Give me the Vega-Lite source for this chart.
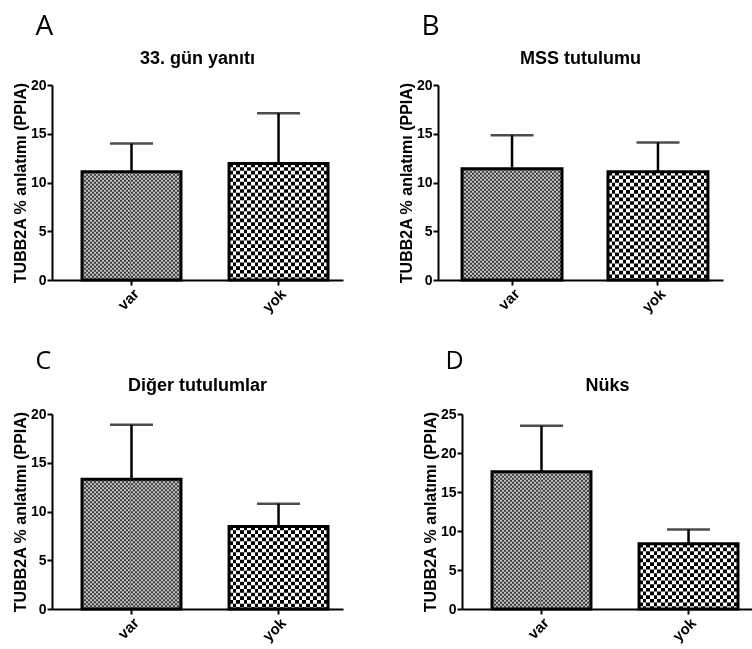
{
  "$schema": "https://vega.github.io/schema/vega-lite/v6.json",
  "padding": {"left": 12, "top": 13, "right": 0, "bottom": 0},
  "background": "white",
  "datasets": {
    "d": [
      {"panel": "A", "group": "var", "mean": 11.1, "upper": 14.0},
      {"panel": "A", "group": "yok", "mean": 11.95, "upper": 17.1},
      {"panel": "B", "group": "var", "mean": 11.4, "upper": 14.85},
      {"panel": "B", "group": "yok", "mean": 11.1, "upper": 14.1},
      {"panel": "C", "group": "var", "mean": 13.3, "upper": 18.9},
      {"panel": "C", "group": "yok", "mean": 8.45, "upper": 10.8},
      {"panel": "D", "group": "var", "mean": 17.6, "upper": 23.5},
      {"panel": "D", "group": "yok", "mean": 8.35, "upper": 10.2}
    ]
  },
  "config": {
    "font": "Liberation Sans",
    "view": {"stroke": null},
    "axis": {
      "grid": false,
      "domainColor": "#000", "domainWidth": 2,
      "tickColor": "#000", "tickWidth": 2, "tickSize": 5,
      "labelColor": "#000", "labelFont": "Liberation Sans", "labelFontSize": 14, "labelFontWeight": "bold", "labelPadding": 1,
      "titleColor": "#000", "titleFont": "Liberation Sans", "titleFontSize": 16, "titleFontWeight": "bold"
    },
    "axisX": {"labelFontSize": 15},
    "axisY": {"titlePadding": 2},
    "title": {"font": "Liberation Sans", "fontSize": 18, "fontWeight": "bold", "color": "#000"}
  },
  "spacing": 19,
  "vconcat": [
    {
      "spacing": 55,
      "hconcat": [
        {
          "title": {"text": "A", "anchor": "start", "font": "Open Sans", "fontSize": 28, "fontWeight": "normal", "dx": 23, "offset": 9},
          "vconcat": [{
            "width": 291, "height": 195,
            "title": {"text": "33. gün yanıtı", "offset": 10},
            "data": {"name": "d"},
            "transform": [{"filter": "datum.panel === 'A'"}],
            "encoding": {
              "x": {"field": "group", "type": "nominal", "scale": {"domain": ["var", "yok"], "paddingInner": 0.327, "paddingOuter": 0.153, "align": 0.667}, "axis": {"title": null, "labelAngle": -45}},
              "y": {"field": "mean", "type": "quantitative", "scale": {"domain": [0, 20], "nice": false}, "axis": {"values": [0, 5, 10, 15, 20], "title": "TUBB2A % anlatımı (PPIA)"}}
            },
            "layer": [
              {"transform": [{"filter": "datum.group === 'var'"}], "mark": {"type": "bar", "color": {"gradient": "linear", "x1": 0, "y1": 0, "x2": 1, "y2": 0, "stops": [
        {"offset":0,"color":"#3a3a3a"},{"offset":0.02,"color":"#3a3a3a"},{"offset":0.02,"color":"#c5c5c5"},{"offset":0.04,"color":"#c5c5c5"},{"offset":0.04,"color":"#3a3a3a"},{"offset":0.06,"color":"#3a3a3a"},{"offset":0.06,"color":"#c5c5c5"},{"offset":0.08,"color":"#c5c5c5"},{"offset":0.08,"color":"#3a3a3a"},{"offset":0.1,"color":"#3a3a3a"},{"offset":0.1,"color":"#c5c5c5"},{"offset":0.12,"color":"#c5c5c5"},{"offset":0.12,"color":"#3a3a3a"},{"offset":0.14,"color":"#3a3a3a"},{"offset":0.14,"color":"#c5c5c5"},{"offset":0.16,"color":"#c5c5c5"},{"offset":0.16,"color":"#3a3a3a"},{"offset":0.18,"color":"#3a3a3a"},{"offset":0.18,"color":"#c5c5c5"},{"offset":0.2,"color":"#c5c5c5"},{"offset":0.2,"color":"#3a3a3a"},{"offset":0.22,"color":"#3a3a3a"},{"offset":0.22,"color":"#c5c5c5"},{"offset":0.24,"color":"#c5c5c5"},{"offset":0.24,"color":"#3a3a3a"},{"offset":0.26,"color":"#3a3a3a"},{"offset":0.26,"color":"#c5c5c5"},{"offset":0.28,"color":"#c5c5c5"},{"offset":0.28,"color":"#3a3a3a"},{"offset":0.3,"color":"#3a3a3a"},{"offset":0.3,"color":"#c5c5c5"},{"offset":0.32,"color":"#c5c5c5"},{"offset":0.32,"color":"#3a3a3a"},{"offset":0.34,"color":"#3a3a3a"},{"offset":0.34,"color":"#c5c5c5"},{"offset":0.36,"color":"#c5c5c5"},{"offset":0.36,"color":"#3a3a3a"},{"offset":0.38,"color":"#3a3a3a"},{"offset":0.38,"color":"#c5c5c5"},{"offset":0.4,"color":"#c5c5c5"},{"offset":0.4,"color":"#3a3a3a"},{"offset":0.42,"color":"#3a3a3a"},{"offset":0.42,"color":"#c5c5c5"},{"offset":0.44,"color":"#c5c5c5"},{"offset":0.44,"color":"#3a3a3a"},{"offset":0.46,"color":"#3a3a3a"},{"offset":0.46,"color":"#c5c5c5"},{"offset":0.48,"color":"#c5c5c5"},{"offset":0.48,"color":"#3a3a3a"},{"offset":0.5,"color":"#3a3a3a"},{"offset":0.5,"color":"#c5c5c5"},{"offset":0.52,"color":"#c5c5c5"},{"offset":0.52,"color":"#3a3a3a"},{"offset":0.54,"color":"#3a3a3a"},{"offset":0.54,"color":"#c5c5c5"},{"offset":0.56,"color":"#c5c5c5"},{"offset":0.56,"color":"#3a3a3a"},{"offset":0.58,"color":"#3a3a3a"},{"offset":0.58,"color":"#c5c5c5"},{"offset":0.6,"color":"#c5c5c5"},{"offset":0.6,"color":"#3a3a3a"},{"offset":0.62,"color":"#3a3a3a"},{"offset":0.62,"color":"#c5c5c5"},{"offset":0.64,"color":"#c5c5c5"},{"offset":0.64,"color":"#3a3a3a"},{"offset":0.66,"color":"#3a3a3a"},{"offset":0.66,"color":"#c5c5c5"},{"offset":0.68,"color":"#c5c5c5"},{"offset":0.68,"color":"#3a3a3a"},{"offset":0.7,"color":"#3a3a3a"},{"offset":0.7,"color":"#c5c5c5"},{"offset":0.72,"color":"#c5c5c5"},{"offset":0.72,"color":"#3a3a3a"},{"offset":0.74,"color":"#3a3a3a"},{"offset":0.74,"color":"#c5c5c5"},{"offset":0.76,"color":"#c5c5c5"},{"offset":0.76,"color":"#3a3a3a"},{"offset":0.78,"color":"#3a3a3a"},{"offset":0.78,"color":"#c5c5c5"},{"offset":0.8,"color":"#c5c5c5"},{"offset":0.8,"color":"#3a3a3a"},{"offset":0.82,"color":"#3a3a3a"},{"offset":0.82,"color":"#c5c5c5"},{"offset":0.84,"color":"#c5c5c5"},{"offset":0.84,"color":"#3a3a3a"},{"offset":0.86,"color":"#3a3a3a"},{"offset":0.86,"color":"#c5c5c5"},{"offset":0.88,"color":"#c5c5c5"},{"offset":0.88,"color":"#3a3a3a"},{"offset":0.9,"color":"#3a3a3a"},{"offset":0.9,"color":"#c5c5c5"},{"offset":0.92,"color":"#c5c5c5"},{"offset":0.92,"color":"#3a3a3a"},{"offset":0.94,"color":"#3a3a3a"},{"offset":0.94,"color":"#c5c5c5"},{"offset":0.96,"color":"#c5c5c5"},{"offset":0.96,"color":"#3a3a3a"},{"offset":0.98,"color":"#3a3a3a"},{"offset":0.98,"color":"#c5c5c5"},{"offset":1,"color":"#c5c5c5"}
      ]}}},
              {"transform": [{"filter": "datum.group === 'yok'"}], "mark": {"type": "bar", "color": {"gradient": "linear", "x1": 0, "y1": 0, "x2": 1, "y2": 0, "stops": [
        {"offset":0,"color":"#fff"},{"offset":0.037,"color":"#fff"},{"offset":0.037,"color":"#000"},{"offset":0.0741,"color":"#000"},{"offset":0.0741,"color":"#fff"},{"offset":0.1111,"color":"#fff"},{"offset":0.1111,"color":"#000"},{"offset":0.1481,"color":"#000"},{"offset":0.1481,"color":"#fff"},{"offset":0.1852,"color":"#fff"},{"offset":0.1852,"color":"#000"},{"offset":0.2222,"color":"#000"},{"offset":0.2222,"color":"#fff"},{"offset":0.2593,"color":"#fff"},{"offset":0.2593,"color":"#000"},{"offset":0.2963,"color":"#000"},{"offset":0.2963,"color":"#fff"},{"offset":0.3333,"color":"#fff"},{"offset":0.3333,"color":"#000"},{"offset":0.3704,"color":"#000"},{"offset":0.3704,"color":"#fff"},{"offset":0.4074,"color":"#fff"},{"offset":0.4074,"color":"#000"},{"offset":0.4444,"color":"#000"},{"offset":0.4444,"color":"#fff"},{"offset":0.4815,"color":"#fff"},{"offset":0.4815,"color":"#000"},{"offset":0.5185,"color":"#000"},{"offset":0.5185,"color":"#fff"},{"offset":0.5556,"color":"#fff"},{"offset":0.5556,"color":"#000"},{"offset":0.5926,"color":"#000"},{"offset":0.5926,"color":"#fff"},{"offset":0.6296,"color":"#fff"},{"offset":0.6296,"color":"#000"},{"offset":0.6667,"color":"#000"},{"offset":0.6667,"color":"#fff"},{"offset":0.7037,"color":"#fff"},{"offset":0.7037,"color":"#000"},{"offset":0.7407,"color":"#000"},{"offset":0.7407,"color":"#fff"},{"offset":0.7778,"color":"#fff"},{"offset":0.7778,"color":"#000"},{"offset":0.8148,"color":"#000"},{"offset":0.8148,"color":"#fff"},{"offset":0.8519,"color":"#fff"},{"offset":0.8519,"color":"#000"},{"offset":0.8889,"color":"#000"},{"offset":0.8889,"color":"#fff"},{"offset":0.9259,"color":"#fff"},{"offset":0.9259,"color":"#000"},{"offset":0.963,"color":"#000"},{"offset":0.963,"color":"#fff"},{"offset":1,"color":"#fff"}
      ]}}},
              {"transform": [{"filter": "datum.group === 'var'"}], "mark": {"type": "rule", "stroke": "#fff", "strokeWidth": 99, "strokeDash": [2, 2], "blend": "difference"}, "encoding": {"y2": {"datum": 0}}},
              {"transform": [{"filter": "datum.group === 'yok'"}], "mark": {"type": "rule", "stroke": "#fff", "strokeWidth": 99, "strokeDash": [3.67, 3.67], "blend": "difference"}, "encoding": {"y2": {"datum": 0}}},
              {"mark": {"type": "bar", "fill": "transparent", "stroke": "#000", "strokeWidth": 3}},
              {"mark": {"type": "rule", "stroke": "#000", "strokeWidth": 2.5}, "encoding": {"y2": {"field": "upper"}}},
              {"mark": {"type": "tick", "color": "#000", "size": 43, "thickness": 2.5}, "encoding": {"y": {"field": "upper", "type": "quantitative"}}}
            ]
          }]
        },
        {
          "title": {"text": "B", "anchor": "start", "font": "Open Sans", "fontSize": 28, "fontWeight": "normal", "dx": 23, "offset": 9},
          "vconcat": [{
            "width": 285, "height": 195,
            "title": {"text": "MSS tutulumu", "offset": 10},
            "data": {"name": "d"},
            "transform": [{"filter": "datum.panel === 'B'"}],
            "encoding": {
              "x": {"field": "group", "type": "nominal", "scale": {"domain": ["var", "yok"], "paddingInner": 0.315, "paddingOuter": 0.134, "align": 0.615}, "axis": {"title": null, "labelAngle": -45}},
              "y": {"field": "mean", "type": "quantitative", "scale": {"domain": [0, 20], "nice": false}, "axis": {"values": [0, 5, 10, 15, 20], "title": "TUBB2A % anlatımı (PPIA)"}}
            },
            "layer": [
              {"transform": [{"filter": "datum.group === 'var'"}], "mark": {"type": "bar", "color": {"gradient": "linear", "x1": 0, "y1": 0, "x2": 1, "y2": 0, "stops": [
        {"offset":0,"color":"#3a3a3a"},{"offset":0.02,"color":"#3a3a3a"},{"offset":0.02,"color":"#c5c5c5"},{"offset":0.04,"color":"#c5c5c5"},{"offset":0.04,"color":"#3a3a3a"},{"offset":0.06,"color":"#3a3a3a"},{"offset":0.06,"color":"#c5c5c5"},{"offset":0.08,"color":"#c5c5c5"},{"offset":0.08,"color":"#3a3a3a"},{"offset":0.1,"color":"#3a3a3a"},{"offset":0.1,"color":"#c5c5c5"},{"offset":0.12,"color":"#c5c5c5"},{"offset":0.12,"color":"#3a3a3a"},{"offset":0.14,"color":"#3a3a3a"},{"offset":0.14,"color":"#c5c5c5"},{"offset":0.16,"color":"#c5c5c5"},{"offset":0.16,"color":"#3a3a3a"},{"offset":0.18,"color":"#3a3a3a"},{"offset":0.18,"color":"#c5c5c5"},{"offset":0.2,"color":"#c5c5c5"},{"offset":0.2,"color":"#3a3a3a"},{"offset":0.22,"color":"#3a3a3a"},{"offset":0.22,"color":"#c5c5c5"},{"offset":0.24,"color":"#c5c5c5"},{"offset":0.24,"color":"#3a3a3a"},{"offset":0.26,"color":"#3a3a3a"},{"offset":0.26,"color":"#c5c5c5"},{"offset":0.28,"color":"#c5c5c5"},{"offset":0.28,"color":"#3a3a3a"},{"offset":0.3,"color":"#3a3a3a"},{"offset":0.3,"color":"#c5c5c5"},{"offset":0.32,"color":"#c5c5c5"},{"offset":0.32,"color":"#3a3a3a"},{"offset":0.34,"color":"#3a3a3a"},{"offset":0.34,"color":"#c5c5c5"},{"offset":0.36,"color":"#c5c5c5"},{"offset":0.36,"color":"#3a3a3a"},{"offset":0.38,"color":"#3a3a3a"},{"offset":0.38,"color":"#c5c5c5"},{"offset":0.4,"color":"#c5c5c5"},{"offset":0.4,"color":"#3a3a3a"},{"offset":0.42,"color":"#3a3a3a"},{"offset":0.42,"color":"#c5c5c5"},{"offset":0.44,"color":"#c5c5c5"},{"offset":0.44,"color":"#3a3a3a"},{"offset":0.46,"color":"#3a3a3a"},{"offset":0.46,"color":"#c5c5c5"},{"offset":0.48,"color":"#c5c5c5"},{"offset":0.48,"color":"#3a3a3a"},{"offset":0.5,"color":"#3a3a3a"},{"offset":0.5,"color":"#c5c5c5"},{"offset":0.52,"color":"#c5c5c5"},{"offset":0.52,"color":"#3a3a3a"},{"offset":0.54,"color":"#3a3a3a"},{"offset":0.54,"color":"#c5c5c5"},{"offset":0.56,"color":"#c5c5c5"},{"offset":0.56,"color":"#3a3a3a"},{"offset":0.58,"color":"#3a3a3a"},{"offset":0.58,"color":"#c5c5c5"},{"offset":0.6,"color":"#c5c5c5"},{"offset":0.6,"color":"#3a3a3a"},{"offset":0.62,"color":"#3a3a3a"},{"offset":0.62,"color":"#c5c5c5"},{"offset":0.64,"color":"#c5c5c5"},{"offset":0.64,"color":"#3a3a3a"},{"offset":0.66,"color":"#3a3a3a"},{"offset":0.66,"color":"#c5c5c5"},{"offset":0.68,"color":"#c5c5c5"},{"offset":0.68,"color":"#3a3a3a"},{"offset":0.7,"color":"#3a3a3a"},{"offset":0.7,"color":"#c5c5c5"},{"offset":0.72,"color":"#c5c5c5"},{"offset":0.72,"color":"#3a3a3a"},{"offset":0.74,"color":"#3a3a3a"},{"offset":0.74,"color":"#c5c5c5"},{"offset":0.76,"color":"#c5c5c5"},{"offset":0.76,"color":"#3a3a3a"},{"offset":0.78,"color":"#3a3a3a"},{"offset":0.78,"color":"#c5c5c5"},{"offset":0.8,"color":"#c5c5c5"},{"offset":0.8,"color":"#3a3a3a"},{"offset":0.82,"color":"#3a3a3a"},{"offset":0.82,"color":"#c5c5c5"},{"offset":0.84,"color":"#c5c5c5"},{"offset":0.84,"color":"#3a3a3a"},{"offset":0.86,"color":"#3a3a3a"},{"offset":0.86,"color":"#c5c5c5"},{"offset":0.88,"color":"#c5c5c5"},{"offset":0.88,"color":"#3a3a3a"},{"offset":0.9,"color":"#3a3a3a"},{"offset":0.9,"color":"#c5c5c5"},{"offset":0.92,"color":"#c5c5c5"},{"offset":0.92,"color":"#3a3a3a"},{"offset":0.94,"color":"#3a3a3a"},{"offset":0.94,"color":"#c5c5c5"},{"offset":0.96,"color":"#c5c5c5"},{"offset":0.96,"color":"#3a3a3a"},{"offset":0.98,"color":"#3a3a3a"},{"offset":0.98,"color":"#c5c5c5"},{"offset":1,"color":"#c5c5c5"}
      ]}}},
              {"transform": [{"filter": "datum.group === 'yok'"}], "mark": {"type": "bar", "color": {"gradient": "linear", "x1": 0, "y1": 0, "x2": 1, "y2": 0, "stops": [
        {"offset":0,"color":"#fff"},{"offset":0.037,"color":"#fff"},{"offset":0.037,"color":"#000"},{"offset":0.0741,"color":"#000"},{"offset":0.0741,"color":"#fff"},{"offset":0.1111,"color":"#fff"},{"offset":0.1111,"color":"#000"},{"offset":0.1481,"color":"#000"},{"offset":0.1481,"color":"#fff"},{"offset":0.1852,"color":"#fff"},{"offset":0.1852,"color":"#000"},{"offset":0.2222,"color":"#000"},{"offset":0.2222,"color":"#fff"},{"offset":0.2593,"color":"#fff"},{"offset":0.2593,"color":"#000"},{"offset":0.2963,"color":"#000"},{"offset":0.2963,"color":"#fff"},{"offset":0.3333,"color":"#fff"},{"offset":0.3333,"color":"#000"},{"offset":0.3704,"color":"#000"},{"offset":0.3704,"color":"#fff"},{"offset":0.4074,"color":"#fff"},{"offset":0.4074,"color":"#000"},{"offset":0.4444,"color":"#000"},{"offset":0.4444,"color":"#fff"},{"offset":0.4815,"color":"#fff"},{"offset":0.4815,"color":"#000"},{"offset":0.5185,"color":"#000"},{"offset":0.5185,"color":"#fff"},{"offset":0.5556,"color":"#fff"},{"offset":0.5556,"color":"#000"},{"offset":0.5926,"color":"#000"},{"offset":0.5926,"color":"#fff"},{"offset":0.6296,"color":"#fff"},{"offset":0.6296,"color":"#000"},{"offset":0.6667,"color":"#000"},{"offset":0.6667,"color":"#fff"},{"offset":0.7037,"color":"#fff"},{"offset":0.7037,"color":"#000"},{"offset":0.7407,"color":"#000"},{"offset":0.7407,"color":"#fff"},{"offset":0.7778,"color":"#fff"},{"offset":0.7778,"color":"#000"},{"offset":0.8148,"color":"#000"},{"offset":0.8148,"color":"#fff"},{"offset":0.8519,"color":"#fff"},{"offset":0.8519,"color":"#000"},{"offset":0.8889,"color":"#000"},{"offset":0.8889,"color":"#fff"},{"offset":0.9259,"color":"#fff"},{"offset":0.9259,"color":"#000"},{"offset":0.963,"color":"#000"},{"offset":0.963,"color":"#fff"},{"offset":1,"color":"#fff"}
      ]}}},
              {"transform": [{"filter": "datum.group === 'var'"}], "mark": {"type": "rule", "stroke": "#fff", "strokeWidth": 100, "strokeDash": [2, 2], "blend": "difference"}, "encoding": {"y2": {"datum": 0}}},
              {"transform": [{"filter": "datum.group === 'yok'"}], "mark": {"type": "rule", "stroke": "#fff", "strokeWidth": 100, "strokeDash": [3.67, 3.67], "blend": "difference"}, "encoding": {"y2": {"datum": 0}}},
              {"mark": {"type": "bar", "fill": "transparent", "stroke": "#000", "strokeWidth": 3}},
              {"mark": {"type": "rule", "stroke": "#000", "strokeWidth": 2.5}, "encoding": {"y2": {"field": "upper"}}},
              {"mark": {"type": "tick", "color": "#000", "size": 43, "thickness": 2.5}, "encoding": {"y": {"field": "upper", "type": "quantitative"}}}
            ]
          }]
        }
      ]
    },
    {
      "spacing": 79,
      "hconcat": [
        {
          "title": {"text": "C", "anchor": "start", "font": "Open Sans", "fontSize": 25, "fontWeight": "normal", "dx": 23, "offset": 3},
          "vconcat": [{
            "width": 291, "height": 195,
            "title": {"text": "Diğer tutulumlar", "offset": 12},
            "data": {"name": "d"},
            "transform": [{"filter": "datum.panel === 'C'"}],
            "encoding": {
              "x": {"field": "group", "type": "nominal", "scale": {"domain": ["var", "yok"], "paddingInner": 0.327, "paddingOuter": 0.153, "align": 0.667}, "axis": {"title": null, "labelAngle": -45}},
              "y": {"field": "mean", "type": "quantitative", "scale": {"domain": [0, 20], "nice": false}, "axis": {"values": [0, 5, 10, 15, 20], "title": "TUBB2A % anlatımı (PPIA)"}}
            },
            "layer": [
              {"transform": [{"filter": "datum.group === 'var'"}], "mark": {"type": "bar", "color": {"gradient": "linear", "x1": 0, "y1": 0, "x2": 1, "y2": 0, "stops": [
        {"offset":0,"color":"#3a3a3a"},{"offset":0.02,"color":"#3a3a3a"},{"offset":0.02,"color":"#c5c5c5"},{"offset":0.04,"color":"#c5c5c5"},{"offset":0.04,"color":"#3a3a3a"},{"offset":0.06,"color":"#3a3a3a"},{"offset":0.06,"color":"#c5c5c5"},{"offset":0.08,"color":"#c5c5c5"},{"offset":0.08,"color":"#3a3a3a"},{"offset":0.1,"color":"#3a3a3a"},{"offset":0.1,"color":"#c5c5c5"},{"offset":0.12,"color":"#c5c5c5"},{"offset":0.12,"color":"#3a3a3a"},{"offset":0.14,"color":"#3a3a3a"},{"offset":0.14,"color":"#c5c5c5"},{"offset":0.16,"color":"#c5c5c5"},{"offset":0.16,"color":"#3a3a3a"},{"offset":0.18,"color":"#3a3a3a"},{"offset":0.18,"color":"#c5c5c5"},{"offset":0.2,"color":"#c5c5c5"},{"offset":0.2,"color":"#3a3a3a"},{"offset":0.22,"color":"#3a3a3a"},{"offset":0.22,"color":"#c5c5c5"},{"offset":0.24,"color":"#c5c5c5"},{"offset":0.24,"color":"#3a3a3a"},{"offset":0.26,"color":"#3a3a3a"},{"offset":0.26,"color":"#c5c5c5"},{"offset":0.28,"color":"#c5c5c5"},{"offset":0.28,"color":"#3a3a3a"},{"offset":0.3,"color":"#3a3a3a"},{"offset":0.3,"color":"#c5c5c5"},{"offset":0.32,"color":"#c5c5c5"},{"offset":0.32,"color":"#3a3a3a"},{"offset":0.34,"color":"#3a3a3a"},{"offset":0.34,"color":"#c5c5c5"},{"offset":0.36,"color":"#c5c5c5"},{"offset":0.36,"color":"#3a3a3a"},{"offset":0.38,"color":"#3a3a3a"},{"offset":0.38,"color":"#c5c5c5"},{"offset":0.4,"color":"#c5c5c5"},{"offset":0.4,"color":"#3a3a3a"},{"offset":0.42,"color":"#3a3a3a"},{"offset":0.42,"color":"#c5c5c5"},{"offset":0.44,"color":"#c5c5c5"},{"offset":0.44,"color":"#3a3a3a"},{"offset":0.46,"color":"#3a3a3a"},{"offset":0.46,"color":"#c5c5c5"},{"offset":0.48,"color":"#c5c5c5"},{"offset":0.48,"color":"#3a3a3a"},{"offset":0.5,"color":"#3a3a3a"},{"offset":0.5,"color":"#c5c5c5"},{"offset":0.52,"color":"#c5c5c5"},{"offset":0.52,"color":"#3a3a3a"},{"offset":0.54,"color":"#3a3a3a"},{"offset":0.54,"color":"#c5c5c5"},{"offset":0.56,"color":"#c5c5c5"},{"offset":0.56,"color":"#3a3a3a"},{"offset":0.58,"color":"#3a3a3a"},{"offset":0.58,"color":"#c5c5c5"},{"offset":0.6,"color":"#c5c5c5"},{"offset":0.6,"color":"#3a3a3a"},{"offset":0.62,"color":"#3a3a3a"},{"offset":0.62,"color":"#c5c5c5"},{"offset":0.64,"color":"#c5c5c5"},{"offset":0.64,"color":"#3a3a3a"},{"offset":0.66,"color":"#3a3a3a"},{"offset":0.66,"color":"#c5c5c5"},{"offset":0.68,"color":"#c5c5c5"},{"offset":0.68,"color":"#3a3a3a"},{"offset":0.7,"color":"#3a3a3a"},{"offset":0.7,"color":"#c5c5c5"},{"offset":0.72,"color":"#c5c5c5"},{"offset":0.72,"color":"#3a3a3a"},{"offset":0.74,"color":"#3a3a3a"},{"offset":0.74,"color":"#c5c5c5"},{"offset":0.76,"color":"#c5c5c5"},{"offset":0.76,"color":"#3a3a3a"},{"offset":0.78,"color":"#3a3a3a"},{"offset":0.78,"color":"#c5c5c5"},{"offset":0.8,"color":"#c5c5c5"},{"offset":0.8,"color":"#3a3a3a"},{"offset":0.82,"color":"#3a3a3a"},{"offset":0.82,"color":"#c5c5c5"},{"offset":0.84,"color":"#c5c5c5"},{"offset":0.84,"color":"#3a3a3a"},{"offset":0.86,"color":"#3a3a3a"},{"offset":0.86,"color":"#c5c5c5"},{"offset":0.88,"color":"#c5c5c5"},{"offset":0.88,"color":"#3a3a3a"},{"offset":0.9,"color":"#3a3a3a"},{"offset":0.9,"color":"#c5c5c5"},{"offset":0.92,"color":"#c5c5c5"},{"offset":0.92,"color":"#3a3a3a"},{"offset":0.94,"color":"#3a3a3a"},{"offset":0.94,"color":"#c5c5c5"},{"offset":0.96,"color":"#c5c5c5"},{"offset":0.96,"color":"#3a3a3a"},{"offset":0.98,"color":"#3a3a3a"},{"offset":0.98,"color":"#c5c5c5"},{"offset":1,"color":"#c5c5c5"}
      ]}}},
              {"transform": [{"filter": "datum.group === 'yok'"}], "mark": {"type": "bar", "color": {"gradient": "linear", "x1": 0, "y1": 0, "x2": 1, "y2": 0, "stops": [
        {"offset":0,"color":"#fff"},{"offset":0.037,"color":"#fff"},{"offset":0.037,"color":"#000"},{"offset":0.0741,"color":"#000"},{"offset":0.0741,"color":"#fff"},{"offset":0.1111,"color":"#fff"},{"offset":0.1111,"color":"#000"},{"offset":0.1481,"color":"#000"},{"offset":0.1481,"color":"#fff"},{"offset":0.1852,"color":"#fff"},{"offset":0.1852,"color":"#000"},{"offset":0.2222,"color":"#000"},{"offset":0.2222,"color":"#fff"},{"offset":0.2593,"color":"#fff"},{"offset":0.2593,"color":"#000"},{"offset":0.2963,"color":"#000"},{"offset":0.2963,"color":"#fff"},{"offset":0.3333,"color":"#fff"},{"offset":0.3333,"color":"#000"},{"offset":0.3704,"color":"#000"},{"offset":0.3704,"color":"#fff"},{"offset":0.4074,"color":"#fff"},{"offset":0.4074,"color":"#000"},{"offset":0.4444,"color":"#000"},{"offset":0.4444,"color":"#fff"},{"offset":0.4815,"color":"#fff"},{"offset":0.4815,"color":"#000"},{"offset":0.5185,"color":"#000"},{"offset":0.5185,"color":"#fff"},{"offset":0.5556,"color":"#fff"},{"offset":0.5556,"color":"#000"},{"offset":0.5926,"color":"#000"},{"offset":0.5926,"color":"#fff"},{"offset":0.6296,"color":"#fff"},{"offset":0.6296,"color":"#000"},{"offset":0.6667,"color":"#000"},{"offset":0.6667,"color":"#fff"},{"offset":0.7037,"color":"#fff"},{"offset":0.7037,"color":"#000"},{"offset":0.7407,"color":"#000"},{"offset":0.7407,"color":"#fff"},{"offset":0.7778,"color":"#fff"},{"offset":0.7778,"color":"#000"},{"offset":0.8148,"color":"#000"},{"offset":0.8148,"color":"#fff"},{"offset":0.8519,"color":"#fff"},{"offset":0.8519,"color":"#000"},{"offset":0.8889,"color":"#000"},{"offset":0.8889,"color":"#fff"},{"offset":0.9259,"color":"#fff"},{"offset":0.9259,"color":"#000"},{"offset":0.963,"color":"#000"},{"offset":0.963,"color":"#fff"},{"offset":1,"color":"#fff"}
      ]}}},
              {"transform": [{"filter": "datum.group === 'var'"}], "mark": {"type": "rule", "stroke": "#fff", "strokeWidth": 99, "strokeDash": [2, 2], "blend": "difference"}, "encoding": {"y2": {"datum": 0}}},
              {"transform": [{"filter": "datum.group === 'yok'"}], "mark": {"type": "rule", "stroke": "#fff", "strokeWidth": 99, "strokeDash": [3.67, 3.67], "blend": "difference"}, "encoding": {"y2": {"datum": 0}}},
              {"mark": {"type": "bar", "fill": "transparent", "stroke": "#000", "strokeWidth": 3}},
              {"mark": {"type": "rule", "stroke": "#000", "strokeWidth": 2.5}, "encoding": {"y2": {"field": "upper"}}},
              {"mark": {"type": "tick", "color": "#000", "size": 43, "thickness": 2.5}, "encoding": {"y": {"field": "upper", "type": "quantitative"}}}
            ]
          }]
        },
        {
          "title": {"text": "D", "anchor": "start", "font": "Open Sans", "fontSize": 25, "fontWeight": "normal", "dx": 23, "offset": 3},
          "vconcat": [{
            "width": 291, "height": 195,
            "title": {"text": "Nüks", "offset": 12},
            "data": {"name": "d"},
            "transform": [{"filter": "datum.panel === 'D'"}],
            "encoding": {
              "x": {"field": "group", "type": "nominal", "scale": {"domain": ["var", "yok"], "paddingInner": 0.327, "paddingOuter": 0.153, "align": 0.667}, "axis": {"title": null, "labelAngle": -45}},
              "y": {"field": "mean", "type": "quantitative", "scale": {"domain": [0, 25], "nice": false}, "axis": {"values": [0, 5, 10, 15, 20, 25], "title": "TUBB2A % anlatımı (PPIA)"}}
            },
            "layer": [
              {"transform": [{"filter": "datum.group === 'var'"}], "mark": {"type": "bar", "color": {"gradient": "linear", "x1": 0, "y1": 0, "x2": 1, "y2": 0, "stops": [
        {"offset":0,"color":"#3a3a3a"},{"offset":0.02,"color":"#3a3a3a"},{"offset":0.02,"color":"#c5c5c5"},{"offset":0.04,"color":"#c5c5c5"},{"offset":0.04,"color":"#3a3a3a"},{"offset":0.06,"color":"#3a3a3a"},{"offset":0.06,"color":"#c5c5c5"},{"offset":0.08,"color":"#c5c5c5"},{"offset":0.08,"color":"#3a3a3a"},{"offset":0.1,"color":"#3a3a3a"},{"offset":0.1,"color":"#c5c5c5"},{"offset":0.12,"color":"#c5c5c5"},{"offset":0.12,"color":"#3a3a3a"},{"offset":0.14,"color":"#3a3a3a"},{"offset":0.14,"color":"#c5c5c5"},{"offset":0.16,"color":"#c5c5c5"},{"offset":0.16,"color":"#3a3a3a"},{"offset":0.18,"color":"#3a3a3a"},{"offset":0.18,"color":"#c5c5c5"},{"offset":0.2,"color":"#c5c5c5"},{"offset":0.2,"color":"#3a3a3a"},{"offset":0.22,"color":"#3a3a3a"},{"offset":0.22,"color":"#c5c5c5"},{"offset":0.24,"color":"#c5c5c5"},{"offset":0.24,"color":"#3a3a3a"},{"offset":0.26,"color":"#3a3a3a"},{"offset":0.26,"color":"#c5c5c5"},{"offset":0.28,"color":"#c5c5c5"},{"offset":0.28,"color":"#3a3a3a"},{"offset":0.3,"color":"#3a3a3a"},{"offset":0.3,"color":"#c5c5c5"},{"offset":0.32,"color":"#c5c5c5"},{"offset":0.32,"color":"#3a3a3a"},{"offset":0.34,"color":"#3a3a3a"},{"offset":0.34,"color":"#c5c5c5"},{"offset":0.36,"color":"#c5c5c5"},{"offset":0.36,"color":"#3a3a3a"},{"offset":0.38,"color":"#3a3a3a"},{"offset":0.38,"color":"#c5c5c5"},{"offset":0.4,"color":"#c5c5c5"},{"offset":0.4,"color":"#3a3a3a"},{"offset":0.42,"color":"#3a3a3a"},{"offset":0.42,"color":"#c5c5c5"},{"offset":0.44,"color":"#c5c5c5"},{"offset":0.44,"color":"#3a3a3a"},{"offset":0.46,"color":"#3a3a3a"},{"offset":0.46,"color":"#c5c5c5"},{"offset":0.48,"color":"#c5c5c5"},{"offset":0.48,"color":"#3a3a3a"},{"offset":0.5,"color":"#3a3a3a"},{"offset":0.5,"color":"#c5c5c5"},{"offset":0.52,"color":"#c5c5c5"},{"offset":0.52,"color":"#3a3a3a"},{"offset":0.54,"color":"#3a3a3a"},{"offset":0.54,"color":"#c5c5c5"},{"offset":0.56,"color":"#c5c5c5"},{"offset":0.56,"color":"#3a3a3a"},{"offset":0.58,"color":"#3a3a3a"},{"offset":0.58,"color":"#c5c5c5"},{"offset":0.6,"color":"#c5c5c5"},{"offset":0.6,"color":"#3a3a3a"},{"offset":0.62,"color":"#3a3a3a"},{"offset":0.62,"color":"#c5c5c5"},{"offset":0.64,"color":"#c5c5c5"},{"offset":0.64,"color":"#3a3a3a"},{"offset":0.66,"color":"#3a3a3a"},{"offset":0.66,"color":"#c5c5c5"},{"offset":0.68,"color":"#c5c5c5"},{"offset":0.68,"color":"#3a3a3a"},{"offset":0.7,"color":"#3a3a3a"},{"offset":0.7,"color":"#c5c5c5"},{"offset":0.72,"color":"#c5c5c5"},{"offset":0.72,"color":"#3a3a3a"},{"offset":0.74,"color":"#3a3a3a"},{"offset":0.74,"color":"#c5c5c5"},{"offset":0.76,"color":"#c5c5c5"},{"offset":0.76,"color":"#3a3a3a"},{"offset":0.78,"color":"#3a3a3a"},{"offset":0.78,"color":"#c5c5c5"},{"offset":0.8,"color":"#c5c5c5"},{"offset":0.8,"color":"#3a3a3a"},{"offset":0.82,"color":"#3a3a3a"},{"offset":0.82,"color":"#c5c5c5"},{"offset":0.84,"color":"#c5c5c5"},{"offset":0.84,"color":"#3a3a3a"},{"offset":0.86,"color":"#3a3a3a"},{"offset":0.86,"color":"#c5c5c5"},{"offset":0.88,"color":"#c5c5c5"},{"offset":0.88,"color":"#3a3a3a"},{"offset":0.9,"color":"#3a3a3a"},{"offset":0.9,"color":"#c5c5c5"},{"offset":0.92,"color":"#c5c5c5"},{"offset":0.92,"color":"#3a3a3a"},{"offset":0.94,"color":"#3a3a3a"},{"offset":0.94,"color":"#c5c5c5"},{"offset":0.96,"color":"#c5c5c5"},{"offset":0.96,"color":"#3a3a3a"},{"offset":0.98,"color":"#3a3a3a"},{"offset":0.98,"color":"#c5c5c5"},{"offset":1,"color":"#c5c5c5"}
      ]}}},
              {"transform": [{"filter": "datum.group === 'yok'"}], "mark": {"type": "bar", "color": {"gradient": "linear", "x1": 0, "y1": 0, "x2": 1, "y2": 0, "stops": [
        {"offset":0,"color":"#fff"},{"offset":0.037,"color":"#fff"},{"offset":0.037,"color":"#000"},{"offset":0.0741,"color":"#000"},{"offset":0.0741,"color":"#fff"},{"offset":0.1111,"color":"#fff"},{"offset":0.1111,"color":"#000"},{"offset":0.1481,"color":"#000"},{"offset":0.1481,"color":"#fff"},{"offset":0.1852,"color":"#fff"},{"offset":0.1852,"color":"#000"},{"offset":0.2222,"color":"#000"},{"offset":0.2222,"color":"#fff"},{"offset":0.2593,"color":"#fff"},{"offset":0.2593,"color":"#000"},{"offset":0.2963,"color":"#000"},{"offset":0.2963,"color":"#fff"},{"offset":0.3333,"color":"#fff"},{"offset":0.3333,"color":"#000"},{"offset":0.3704,"color":"#000"},{"offset":0.3704,"color":"#fff"},{"offset":0.4074,"color":"#fff"},{"offset":0.4074,"color":"#000"},{"offset":0.4444,"color":"#000"},{"offset":0.4444,"color":"#fff"},{"offset":0.4815,"color":"#fff"},{"offset":0.4815,"color":"#000"},{"offset":0.5185,"color":"#000"},{"offset":0.5185,"color":"#fff"},{"offset":0.5556,"color":"#fff"},{"offset":0.5556,"color":"#000"},{"offset":0.5926,"color":"#000"},{"offset":0.5926,"color":"#fff"},{"offset":0.6296,"color":"#fff"},{"offset":0.6296,"color":"#000"},{"offset":0.6667,"color":"#000"},{"offset":0.6667,"color":"#fff"},{"offset":0.7037,"color":"#fff"},{"offset":0.7037,"color":"#000"},{"offset":0.7407,"color":"#000"},{"offset":0.7407,"color":"#fff"},{"offset":0.7778,"color":"#fff"},{"offset":0.7778,"color":"#000"},{"offset":0.8148,"color":"#000"},{"offset":0.8148,"color":"#fff"},{"offset":0.8519,"color":"#fff"},{"offset":0.8519,"color":"#000"},{"offset":0.8889,"color":"#000"},{"offset":0.8889,"color":"#fff"},{"offset":0.9259,"color":"#fff"},{"offset":0.9259,"color":"#000"},{"offset":0.963,"color":"#000"},{"offset":0.963,"color":"#fff"},{"offset":1,"color":"#fff"}
      ]}}},
              {"transform": [{"filter": "datum.group === 'var'"}], "mark": {"type": "rule", "stroke": "#fff", "strokeWidth": 99, "strokeDash": [2, 2], "blend": "difference"}, "encoding": {"y2": {"datum": 0}}},
              {"transform": [{"filter": "datum.group === 'yok'"}], "mark": {"type": "rule", "stroke": "#fff", "strokeWidth": 99, "strokeDash": [3.67, 3.67], "blend": "difference"}, "encoding": {"y2": {"datum": 0}}},
              {"mark": {"type": "bar", "fill": "transparent", "stroke": "#000", "strokeWidth": 3}},
              {"mark": {"type": "rule", "stroke": "#000", "strokeWidth": 2.5}, "encoding": {"y2": {"field": "upper"}}},
              {"mark": {"type": "tick", "color": "#000", "size": 43, "thickness": 2.5}, "encoding": {"y": {"field": "upper", "type": "quantitative"}}}
            ]
          }]
        }
      ]
    }
  ]
}
